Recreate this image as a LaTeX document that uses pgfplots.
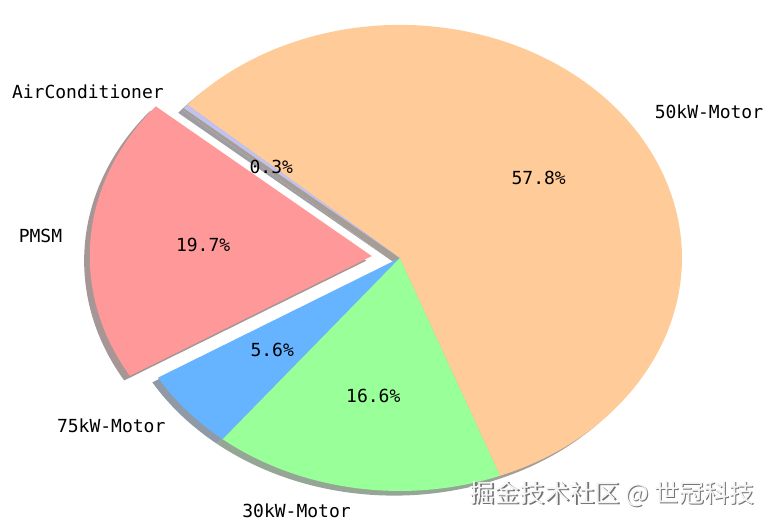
\documentclass[border=0pt]{standalone}
\usepackage{pgfplots}
\pgfplotsset{compat=1.18}
\usepackage{pgfplotstable}
\usepackage{fontspec}
\newfontfamily\monofont{DejaVu Sans Mono}
\newfontfamily\cjk{Noto Sans CJK SC}
\newcommand\lf{\monofont\fontsize{9pt}{10pt}\selectfont}

\definecolor{c0}{HTML}{FF9999}
\definecolor{c1}{HTML}{66B3FF}
\definecolor{c2}{HTML}{99FF99}
\definecolor{c3}{HTML}{FFCC99}
\definecolor{c4}{HTML}{C2C2F0}

% shares in percent, counter-clockwise from 140 deg
\pgfplotstableread{
name value explode
PMSM 19.7 0.1
75kW-Motor 5.6 0
30kW-Motor 16.6 0
50kW-Motor 57.8 0
AirConditioner 0.3 0
}\piedata

\def\ux{141}   % pt per unit radius (x)
\def\uy{116.5} % pt per unit radius (y)

\begin{document}
\begin{tikzpicture}
\begin{axis}[
  x=\ux pt, y=\uy pt,
  xmin=-1.418, xmax=1.323,
  ymin=-1.150, ymax=1.107,
  hide axis, clip=false,
]
\coordinate (bl) at (rel axis cs:0,0);
\coordinate (tr) at (rel axis cs:1,1);
\pgfplotstablegetrowsof{\piedata}
\pgfmathtruncatemacro\N{\pgfplotsretval-1}

% shadows
\def\angA{140}
\pgfplotsforeachungrouped \i in {0,...,\N}{%
  \pgfplotstablegetelem{\i}{value}\of\piedata \let\val\pgfplotsretval
  \pgfplotstablegetelem{\i}{explode}\of\piedata \let\expl\pgfplotsretval
  \pgfmathsetmacro\angB{\angA+3.6*\val}
  \pgfmathsetmacro\angM{(\angA+\angB)/2}
  \pgfmathsetmacro\cx{\expl*cos(\angM)-0.02}
  \pgfmathsetmacro\cy{\expl*sin(\angM)-0.02}
  \pgfmathsetmacro\sx{\cx+cos(\angA)}
  \pgfmathsetmacro\sy{\cy+sin(\angA)}
  \edef\temp{\noexpand\fill[c\i!30!black!50!white] (axis cs:\cx,\cy) -- (axis cs:\sx,\sy)
    arc[start angle=\angA, end angle=\angB, x radius=\ux pt, y radius=\uy pt] -- cycle;}
  \temp
  \let\angA\angB
}

% wedges and labels
\def\angA{140}
\pgfplotsforeachungrouped \i in {0,...,\N}{%
  \pgfplotstablegetelem{\i}{value}\of\piedata \let\val\pgfplotsretval
  \pgfplotstablegetelem{\i}{explode}\of\piedata \let\expl\pgfplotsretval
  \pgfplotstablegetelem{\i}{name}\of\piedata \let\nm\pgfplotsretval
  \pgfmathsetmacro\angB{\angA+3.6*\val}
  \pgfmathsetmacro\angM{(\angA+\angB)/2}
  \pgfmathsetmacro\cx{\expl*cos(\angM)}
  \pgfmathsetmacro\cy{\expl*sin(\angM)}
  \pgfmathsetmacro\sx{\cx+cos(\angA)}
  \pgfmathsetmacro\sy{\cy+sin(\angA)}
  \pgfmathsetmacro\lx{(\expl+1.1)*cos(\angM)}
  \pgfmathsetmacro\ly{(\expl+1.1)*sin(\angM)}
  \pgfmathsetmacro\px{(\expl+0.6)*cos(\angM)}
  \pgfmathsetmacro\py{(\expl+0.6)*sin(\angM)}
  \ifdim\lx pt>0pt \def\anc{west}\else\def\anc{east}\fi
  \edef\temp{\noexpand\fill[c\i] (axis cs:\cx,\cy) -- (axis cs:\sx,\sy)
    arc[start angle=\angA, end angle=\angB, x radius=\ux pt, y radius=\uy pt] -- cycle;
    \noexpand\node[anchor=\anc, inner sep=0pt, font=\noexpand\lf] at (axis cs:\lx,\ly) {\nm};
    \noexpand\node[inner sep=0pt, font=\noexpand\lf] at (axis cs:\px,\py) {\val\noexpand\%};}
  \temp
  \let\angA\angB
}

% watermark
\node[anchor=east, inner sep=0pt, text=black!55, font=\cjk\fontsize{12.5pt}{14pt}\selectfont]
  at ([xshift=0.7pt,yshift=-0.7pt]axis cs:1.259,-1.013) {掘金技术社区 @ 世冠科技};
\node[anchor=east, inner sep=0pt, text=black!4, font=\cjk\fontsize{12.5pt}{14pt}\selectfont]
  at (axis cs:1.259,-1.013) {掘金技术社区 @ 世冠科技};
\end{axis}
\pgfresetboundingbox
\path (bl) rectangle (tr);
\end{tikzpicture}
\end{document}
